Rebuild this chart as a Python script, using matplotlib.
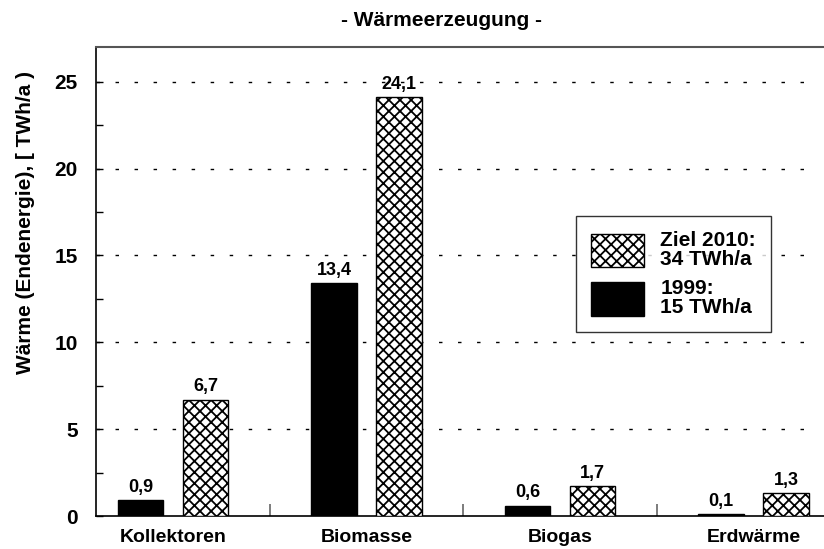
import numpy as np
import matplotlib
matplotlib.use('Agg')
import matplotlib.pyplot as plt
from matplotlib.patches import Patch

plt.rcParams['font.family'] = ['Liberation Sans', 'DejaVu Sans']
plt.rcParams['font.weight'] = 'bold'
plt.rcParams['hatch.linewidth'] = 1.3

# --- Daten ---
kategorien = ['Kollektoren', 'Biomasse', 'Biogas', 'Erdwärme']
werte_1999 = [0.9, 13.4, 0.6, 0.1]
werte_2010 = [6.7, 24.1, 1.7, 1.3]
label_1999 = '1999:\n15 TWh/a'
label_2010 = 'Ziel 2010:\n34 TWh/a'
y_ticks = [0, 5, 10, 15, 20, 25]

fig = plt.figure(figsize=(8.24, 5.49), dpi=100)
ax = fig.add_axes([96/824, 33/549, 728/824, 469/549])

x = np.arange(len(kategorien))
breite = 0.235
versatz = 0.168

b1 = ax.bar(x - versatz, werte_1999, breite, color='black', edgecolor='black', zorder=3)
b2 = ax.bar(x + versatz, werte_2010, breite, color='white', edgecolor='black',
            hatch='xxx', linewidth=1.0, zorder=3)

for rects, vals in [(b1, werte_1999), (b2, werte_2010)]:
    for r, v in zip(rects, vals):
        ax.annotate(f'{v:.1f}'.replace('.', ','), (r.get_x() + r.get_width()/2, v),
                    xytext=(0, 3), textcoords='offset points', ha='center', va='bottom',
                    fontsize=13, fontweight='bold')

ax.set_xlim(-0.398, 3.364)
ax.set_ylim(0, 27)

# gestrichelte Gitterlinien
ax.hlines(y_ticks[1:], -0.398, 3.28, colors='black', linewidth=1.0,
          linestyles=(0, (2.5, 11.2)), zorder=1)

ax.set_yticks(y_ticks)
ax.set_yticks(np.arange(2.5, 27, 5), minor=True)
ax.tick_params(axis='y', which='both', direction='in', length=5, width=1, labelsize=15, pad=13)
ax.set_xticks(x)
ax.set_xticklabels(kategorien, fontsize=14, fontweight='bold')
ax.set_xticks([0.5, 1.5, 2.5], minor=True)
ax.tick_params(axis='x', which='major', length=0, pad=9)
ax.tick_params(axis='x', which='minor', direction='in', length=8.5, width=1.2, color='#666666')

ax.spines['right'].set_visible(False)
ax.spines['top'].set_color('#555555')
ax.spines['top'].set_linewidth(1.5)
ax.spines['left'].set_linewidth(1.2)
ax.spines['bottom'].set_linewidth(1.2)

ax.set_ylabel('Wärme (Endenergie), [ TWh/a )', fontsize=15, fontweight='bold')
ax.yaxis.set_label_coords((35 - 96)/728, (516 - 222)/469)

fig.text(441/824, 1 - 21/549, '- Wärmeerzeugung -', ha='center', va='center',
         fontsize=15, fontweight='bold')

handles = [Patch(facecolor='white', edgecolor='black', hatch='xxx'),
           Patch(facecolor='black', edgecolor='black')]
leg = ax.legend(handles, [label_2010, label_1999], loc='upper left',
                bbox_to_anchor=(576/824, 1 - 216/549), bbox_transform=fig.transFigure,
                prop={'weight': 'bold', 'size': 15}, frameon=True, fancybox=False,
                edgecolor='black', handlelength=2.55, handleheight=2.1,
                labelspacing=0.5, handletextpad=0.8, borderpad=0.7, borderaxespad=0)
leg.get_frame().set_linewidth(1.0)
for t in leg.get_texts():
    t.set_linespacing(1.0)

fig.savefig('out.png', dpi=100)
